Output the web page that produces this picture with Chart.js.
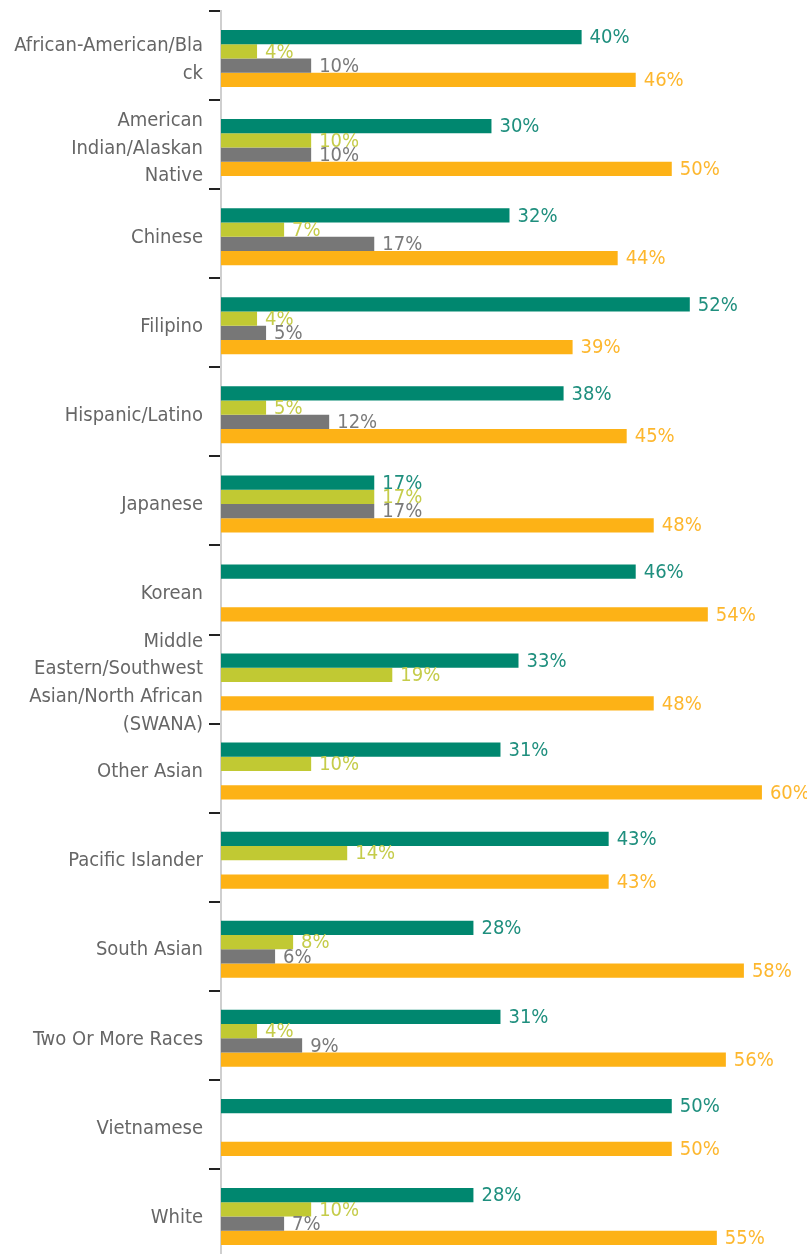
<!DOCTYPE html>
<html>
<head>
<meta charset="utf-8">
<script src="https://cdn.jsdelivr.net/npm/chart.js@4/dist/chart.umd.min.js"></script>
<style>
  html, body { margin: 0; padding: 0; background: #fff; overflow: hidden; }
  #wrap { position: relative; width: 807px; height: 1262px; }
</style>
</head>
<body>
<div id="wrap"><canvas id="chart"></canvas></div>
<script>
// --- DATA ---
const categories = [
    ["African-American/Bla", "ck"],
    ["American", "Indian/Alaskan", "Native"],
    "Chinese",
    "Filipino",
    "Hispanic/Latino",
    "Japanese",
    "Korean",
    ["Middle", "Eastern/Southwest", "Asian/North African", "(SWANA)"],
    "Other Asian",
    "Pacific Islander",
    "South Asian",
    "Two Or More Races",
    "Vietnamese",
    "White"
];
const seriesTeal   = [40, 30, 32, 52, 38, 17, 46, 33, 31, 43, 28, 31, 50, 28];
const seriesGreen  = [4, 10, 7, 4, 5, 17, null, 19, 10, 14, 8, 4, null, 10];
const seriesGray   = [10, 10, 17, 5, 12, 17, null, null, null, null, 6, 9, null, 7];
const seriesOrange = [46, 50, 44, 39, 45, 48, 54, 48, 60, 43, 58, 56, 50, 55];

const FONT = "'Liberation Sans Narrow', 'DejaVu Sans Condensed', 'Roboto', sans-serif";

// --- VALUE LABELS AT BAR ENDS (bars sit a touch below category centre in the original) ---
const barLabels = {
    id: 'barLabels',
    beforeDatasetsDraw(chart) {
        chart.ctx.save();
        chart.ctx.translate(0, 3);
    },
    afterDatasetsDraw(chart) {
        const ctx = chart.ctx;
        ctx.font = `20px ${FONT}`;
        ctx.textBaseline = 'middle';
        ctx.textAlign = 'left';
        chart.data.datasets.forEach((ds, i) => {
            const meta = chart.getDatasetMeta(i);
            meta.data.forEach((bar, j) => {
                const v = ds.data[j];
                if (v === null || v === undefined) return;
                ctx.fillStyle = ds.labelColor;
                ctx.fillText(v + '%', bar.x + 8, bar.y + 1);
            });
        });
        ctx.restore();
    }
};

const mk = (data, color, labelColor) => ({
    data, backgroundColor: color, labelColor,
    barPercentage: 1, categoryPercentage: 0.64
});

new Chart(document.getElementById('chart'), {
    type: 'bar',
    data: {
        labels: categories,
        datasets: [
            mk(seriesTeal, '#00876f', '#1f8f7e'),
            mk(seriesGreen, '#c1c933', '#c5cc4a'),
            mk(seriesGray, '#777777', '#7a7a7a'),
            mk(seriesOrange, '#fdb216', '#fdb72e')
        ]
    },
    options: {
        indexAxis: 'y',
        responsive: true,
        maintainAspectRatio: false,
        animation: false,
        layout: { padding: { top: 11, bottom: 4, left: 0, right: 0 } },
        scales: {
            x: { display: false, min: 0, max: 65 },
            y: {
                afterFit: (s) => { s.width = 221; s.paddingTop = 0; s.paddingBottom = 0; },
                border: { display: true, color: '#cfcfcf', width: 2 },
                grid: { drawOnChartArea: false, drawTicks: true, tickLength: 12, tickColor: '#222', lineWidth: 2, offset: true },
                ticks: { autoSkip: false, color: '#666', padding: 6, labelOffset: 4, font: { family: FONT, size: 20, lineHeight: 1.38 } }
            }
        },
        plugins: { legend: { display: false }, tooltip: { enabled: false } }
    },
    plugins: [barLabels]
});
</script>
</body>
</html>
